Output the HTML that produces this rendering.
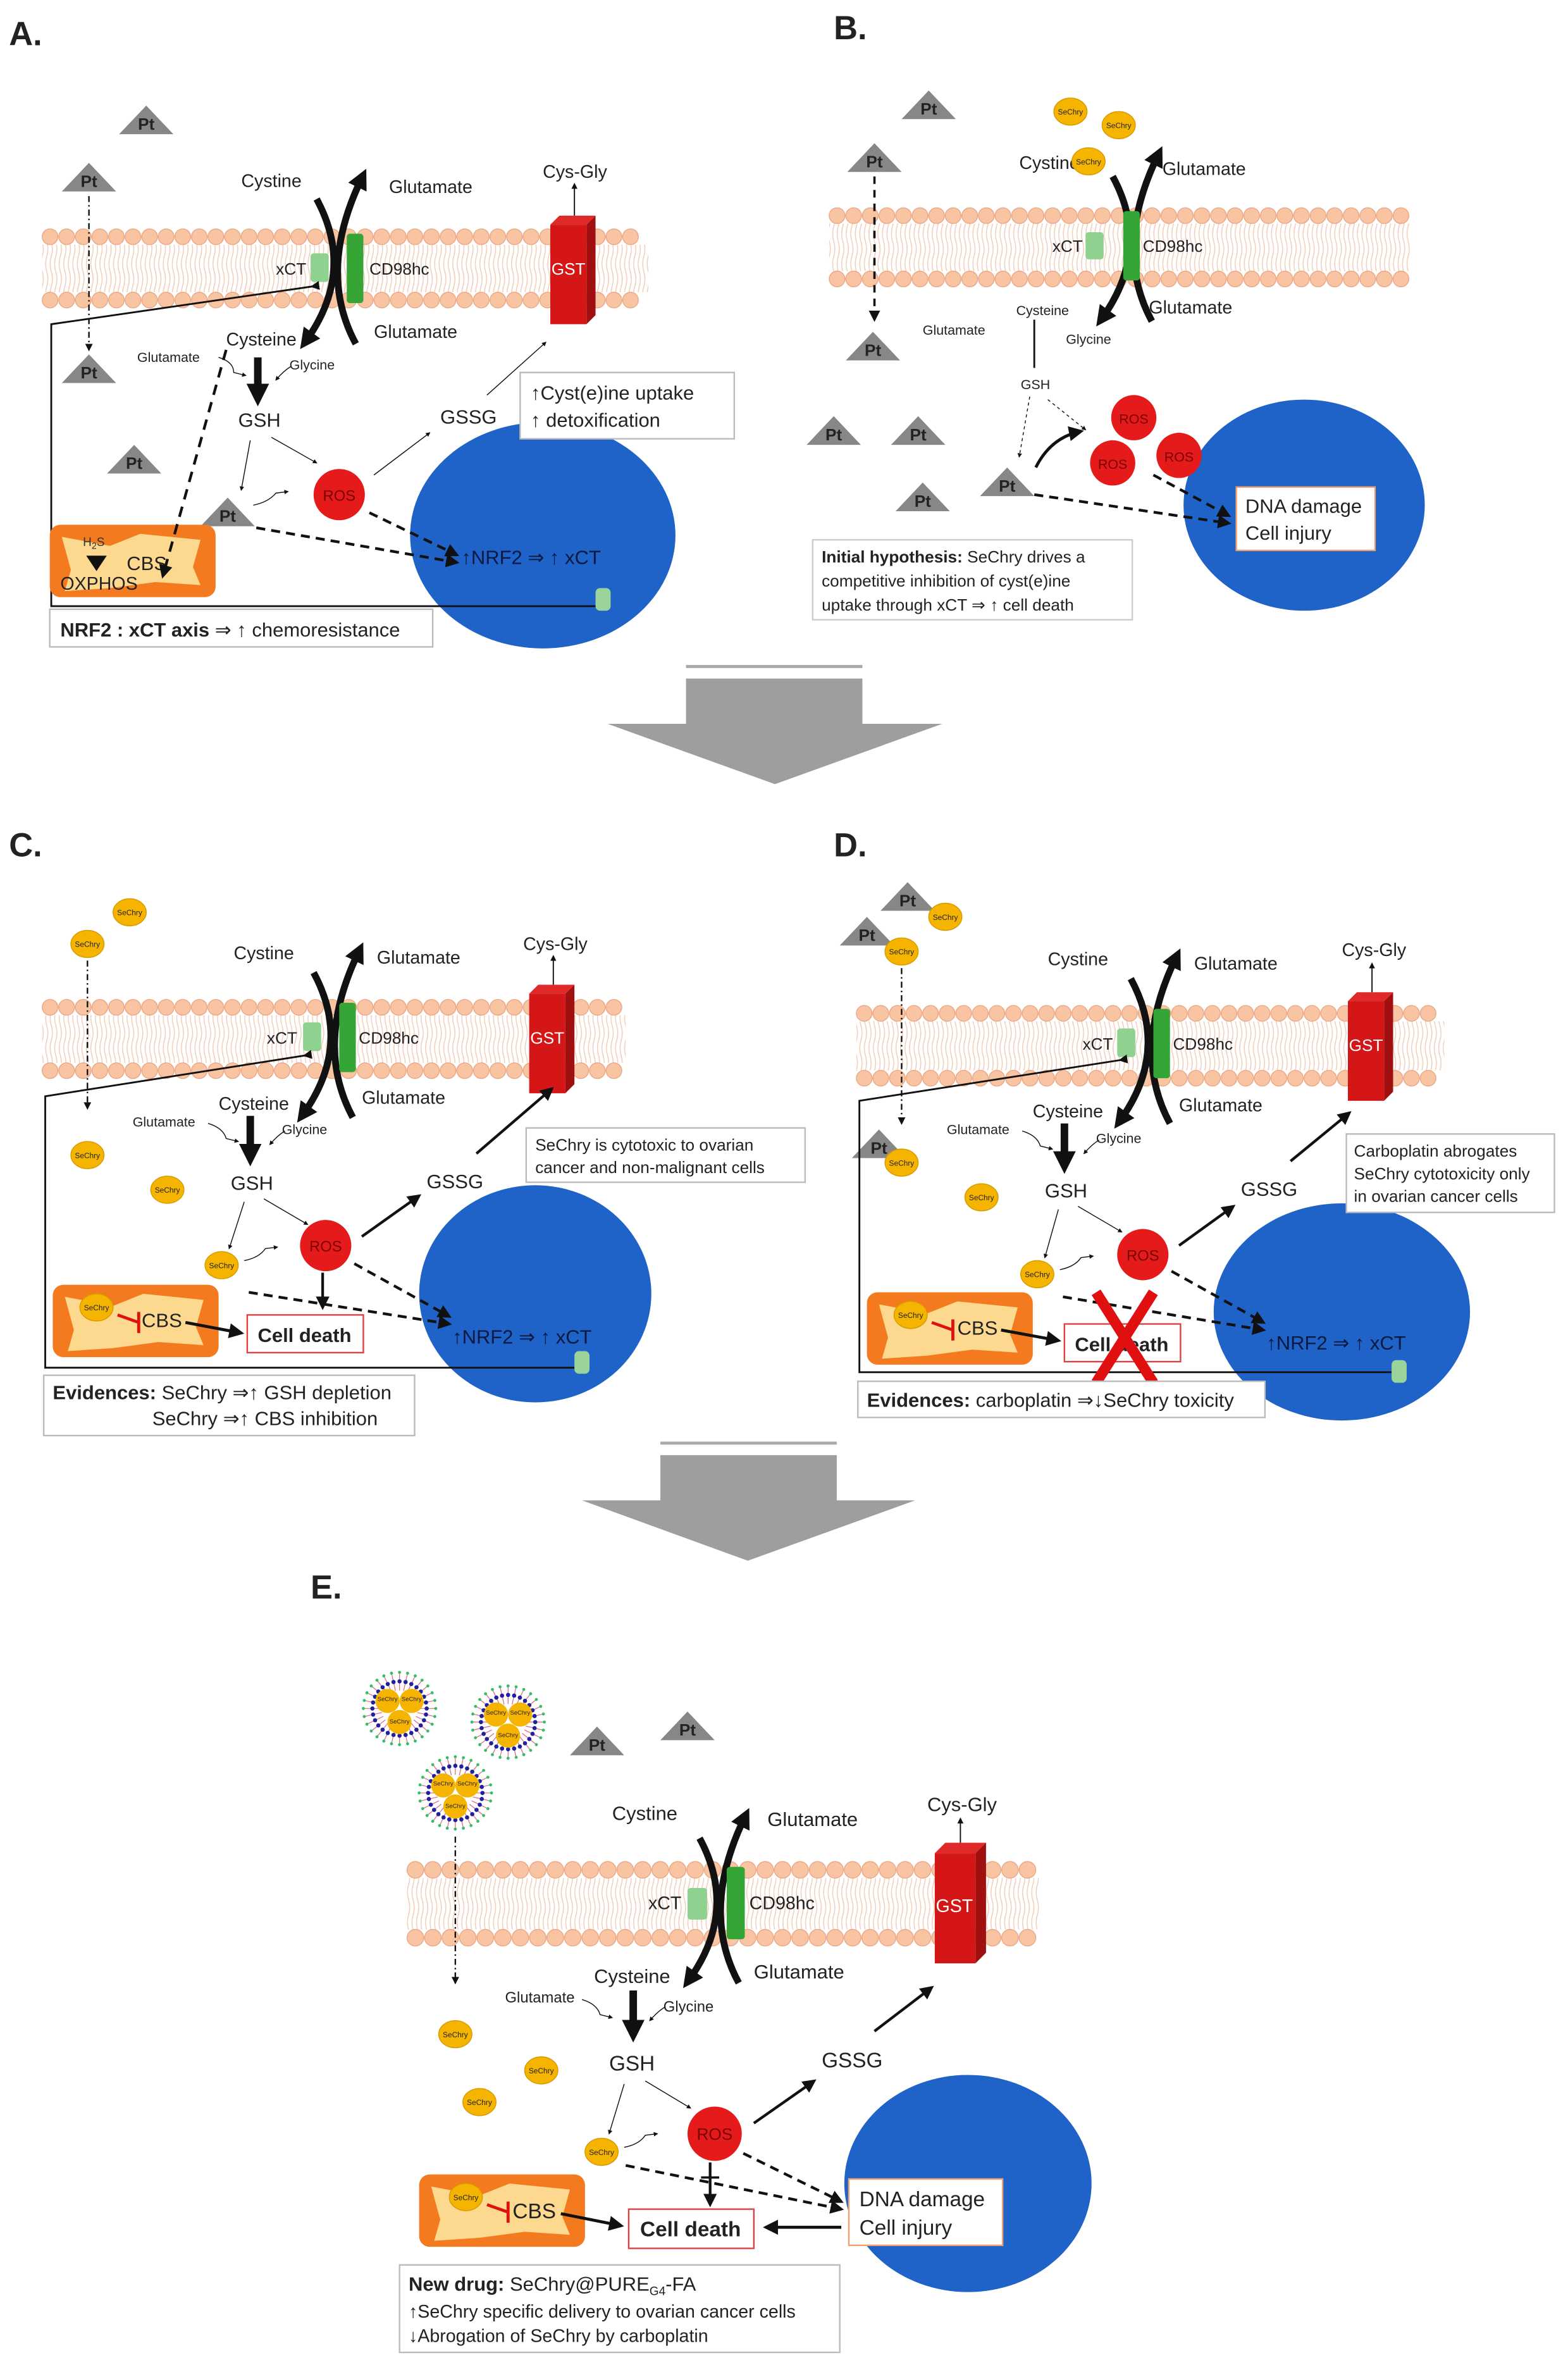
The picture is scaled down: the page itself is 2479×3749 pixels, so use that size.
<!DOCTYPE html>
<html><head><meta charset="utf-8"><style>
html,body{margin:0;padding:0;background:#fff}
svg{display:block}
text{font-family:"Liberation Sans Narrow","Liberation Sans",sans-serif;fill:#222}
.b{font-weight:bold}
</style></head><body>
<svg id="s" width="2479" height="3749" viewBox="0 0 1040 1573" preserveAspectRatio="none" xmlns="http://www.w3.org/2000/svg">
<defs>
<marker id="a" viewBox="0 0 10 10" refX="8" refY="5" markerWidth="5" markerHeight="5" orient="auto"><path d="M0,0L10,5L0,10z" fill="#111"/></marker>
<marker id="ab" viewBox="0 0 10 10" refX="5" refY="5" markerWidth="3" markerHeight="3" orient="auto"><path d="M0,0L10,5L0,10z" fill="#111"/></marker>
<pattern id="tails" width="3" height="40" patternUnits="userSpaceOnUse"><path d="M1,0 q1.5,5 0,10 q-1.5,5 0,10 q1.5,5 0,10 q-1.5,5 0,10" stroke="#f2cbb6" stroke-width="0.6" fill="none"/></pattern>
<g id="tri"><path d="M-18,9 L0,-10 L18,9z" fill="#878787"/></g>
<g id="trans">
<path d="M-10,-43 Q16,5 -17,51" stroke="#111" stroke-width="4.5" fill="none" marker-end="url(#ab)"/>
<path d="M16,53 Q-10,5 20,-57" stroke="#111" stroke-width="4.5" fill="none" marker-end="url(#ab)"/>
</g>
<g id="gst"><path d="M0,6 L6,0 L30,0 L24,6z" fill="#e02a2a"/><path d="M24,6 L30,0 L30,66 L24,72z" fill="#a01010"/><rect x="0" y="6" width="24" height="66" fill="#d41616"/></g>
<g id="gstE"><path d="M0,7 L7,0 L34,0 L27,7z" fill="#e02a2a"/><path d="M27,7 L34,0 L34,73 L27,80z" fill="#a01010"/><rect x="0" y="7" width="27" height="73" fill="#d41616"/></g>
<g id="mito"><rect x="0" y="0" width="110" height="48" rx="7" fill="#f47a1f"/><path d="M8,8 L40,14 L60,6 L100,10 L95,28 L100,40 L70,38 L40,42 L10,44 L14,30z" fill="#fcd98e"/></g>
<g id="sc"><ellipse cx="0" cy="0" rx="11" ry="9" fill="#f5b400" stroke="#d89a00" stroke-width="0.6"/></g>
</defs>
<g id="mem"></g>

<!-- ========== PANEL A ========== -->
<text x="6" y="30" font-size="22" class="b">A.</text>
<ellipse cx="360" cy="355" rx="88" ry="75" fill="#1f63c8"/>
<use href="#tri" x="97" y="80"/><text x="97" y="86" font-size="11" class="b" text-anchor="middle">Pt</text>
<use href="#tri" x="59" y="118"/><text x="59" y="124" font-size="11" class="b" text-anchor="middle">Pt</text>
<use href="#tri" x="59" y="245"/><text x="59" y="251" font-size="11" class="b" text-anchor="middle">Pt</text>
<use href="#tri" x="89" y="305"/><text x="89" y="311" font-size="11" class="b" text-anchor="middle">Pt</text>
<use href="#tri" x="151" y="340"/><text x="151" y="346" font-size="11" class="b" text-anchor="middle">Pt</text>
<line x1="59" y1="130" x2="59" y2="232" stroke="#111" stroke-width="1" stroke-dasharray="4,2,1,2" marker-end="url(#a)"/>
<use href="#trans" x="220" y="175"/>
<text x="160" y="124" font-size="12">Cystine</text>
<text x="258" y="128" font-size="12">Glutamate</text>
<text x="150" y="229" font-size="12">Cysteine</text>
<text x="248" y="224" font-size="12">Glutamate</text>
<text x="183" y="182" font-size="11">xCT</text>
<rect x="206" y="168" width="12" height="19" rx="2" fill="#8fd18f"/>
<rect x="230" y="155" width="11" height="46" rx="2" fill="#35a535"/>
<text x="245" y="182" font-size="11">CD98hc</text>
<use href="#gst" x="365" y="143"/><text x="377" y="182" font-size="11" text-anchor="middle" style="fill:#fff">GST</text>
<line x1="381" y1="143" x2="381" y2="122" stroke="#111" stroke-width="0.8" marker-end="url(#a)"/>
<text x="360" y="118" font-size="12">Cys-Gly</text>
<polyline points="207,190 34,215 34,402 397,402" fill="none" stroke="#111" stroke-width="1.2" marker-start="url(#a)"/>
<line x1="171" y1="237" x2="171" y2="262" stroke="#111" stroke-width="5" marker-end="url(#ab)"/>
<text x="91" y="240" font-size="9">Glutamate</text><text x="192" y="245" font-size="9">Glycine</text>
<path d="M145,237 q10,3 10,10 l8,2" fill="none" stroke="#111" stroke-width="0.6" marker-end="url(#a)"/>
<path d="M193,243 q-5,3 -10,9" fill="none" stroke="#111" stroke-width="0.6" marker-end="url(#a)"/>
<text x="158" y="283" font-size="13">GSH</text>
<line x1="180" y1="290" x2="210" y2="307" stroke="#111" stroke-width="0.6" marker-end="url(#a)"/>
<line x1="166" y1="292" x2="160" y2="325" stroke="#111" stroke-width="0.6" marker-end="url(#a)"/>
<path d="M168,335 q10,-2 15,-8 l8,-1" fill="none" stroke="#111" stroke-width="0.6" marker-end="url(#a)"/>
<circle cx="225" cy="328" r="17" fill="#e51b1b"/><text x="225" y="332" font-size="10" text-anchor="middle" style="fill:#7a0000">ROS</text>
<text x="292" y="281" font-size="13">GSSG</text>
<line x1="248" y1="315" x2="285" y2="287" stroke="#111" stroke-width="0.6" marker-end="url(#a)"/>
<line x1="323" y1="262" x2="362" y2="227" stroke="#111" stroke-width="0.6" marker-end="url(#a)"/>
<rect x="345" y="247" width="142" height="44" fill="#fff" stroke="#bbb"/>
<text x="352" y="265" font-size="13">↑Cyst(e)ine uptake</text><text x="352" y="283" font-size="13">↑ detoxification</text>
<text x="306" y="374" font-size="13" style="fill:#0a1a40">↑NRF2 ⇒ ↑ xCT</text>
<rect x="395" y="390" width="10" height="15" rx="3" fill="#9bd49b"/>
<line x1="245" y1="340" x2="303" y2="368" stroke="#111" stroke-width="1.8" stroke-dasharray="6,4" marker-end="url(#a)"/>
<line x1="170" y1="350" x2="303" y2="373" stroke="#111" stroke-width="1.8" stroke-dasharray="6,4" marker-end="url(#a)"/>
<use href="#mito" x="33" y="348"/>
<text x="55" y="362" font-size="8" style="fill:#333">H<tspan font-size="6" dy="2">2</tspan><tspan dy="-2">S</tspan></text>
<path d="M64,375 l0,-4 M60,370 l4,6 l4,-6z" fill="#111" stroke="#111" stroke-width="3"/>
<text x="84" y="378" font-size="13">CBS</text>
<text x="40" y="391" font-size="12">OXPHOS</text>
<line x1="150" y1="232" x2="108" y2="382" stroke="#111" stroke-width="1.8" stroke-dasharray="7,5" marker-end="url(#a)"/>
<rect x="33" y="404" width="254" height="25" fill="#fff" stroke="#bbb"/>
<text x="40" y="422" font-size="13"><tspan class="b">NRF2 : xCT axis</tspan> ⇒ ↑ chemoresistance</text>

<!-- ========== PANEL B ========== -->
<text x="553" y="26" font-size="22" class="b">B.</text>
<use href="#tri" x="616" y="70"/><text x="616" y="76" font-size="11" class="b" text-anchor="middle">Pt</text>
<use href="#tri" x="580" y="105"/><text x="580" y="111" font-size="11" class="b" text-anchor="middle">Pt</text>
<use href="#tri" x="579" y="230"/><text x="579" y="236" font-size="11" class="b" text-anchor="middle">Pt</text>
<use href="#tri" x="553" y="286"/><text x="553" y="292" font-size="11" class="b" text-anchor="middle">Pt</text>
<use href="#tri" x="609" y="286"/><text x="609" y="292" font-size="11" class="b" text-anchor="middle">Pt</text>
<use href="#tri" x="612" y="330"/><text x="612" y="336" font-size="11" class="b" text-anchor="middle">Pt</text>
<use href="#tri" x="668" y="320"/><text x="668" y="326" font-size="11" class="b" text-anchor="middle">Pt</text>
<use href="#sc" x="710" y="74"/><text x="710" y="76" font-size="5" text-anchor="middle">SeChry</text>
<use href="#sc" x="742" y="83"/><text x="742" y="85" font-size="5" text-anchor="middle">SeChry</text>
<line x1="580" y1="117" x2="580" y2="212" stroke="#111" stroke-width="1.5" stroke-dasharray="5,4" marker-end="url(#a)"/>
<use href="#trans" x="748" y="160"/>
<text x="676" y="112" font-size="12">Cystine</text>
<use href="#sc" x="722" y="107"/><text x="722" y="109" font-size="5" text-anchor="middle">SeChry</text>
<text x="771" y="116" font-size="12">Glutamate</text>
<text x="762" y="208" font-size="12">Glutamate</text>
<text x="674" y="209" font-size="9">Cysteine</text>
<text x="698" y="167" font-size="11">xCT</text>
<rect x="720" y="154" width="12" height="18" rx="2" fill="#8fd18f"/>
<rect x="745" y="140" width="11" height="46" rx="2" fill="#35a535"/>
<text x="758" y="167" font-size="11">CD98hc</text>
<text x="612" y="222" font-size="9">Glutamate</text><text x="707" y="228" font-size="9">Glycine</text>
<line x1="686" y1="212" x2="686" y2="244" stroke="#111" stroke-width="1.2"/>
<text x="677" y="258" font-size="9">GSH</text>
<line x1="683" y1="263" x2="676" y2="303" stroke="#111" stroke-width="0.6" stroke-dasharray="2,2" marker-end="url(#a)"/>
<line x1="695" y1="265" x2="720" y2="285" stroke="#111" stroke-width="0.6" stroke-dasharray="2,2" marker-end="url(#a)"/>
<ellipse cx="865" cy="335" rx="80" ry="70" fill="#1f63c8"/>
<circle cx="752" cy="277" r="15" fill="#e51b1b"/><text x="752" y="281" font-size="9" text-anchor="middle" style="fill:#7a0000">ROS</text>
<circle cx="738" cy="307" r="15" fill="#e51b1b"/><text x="738" y="311" font-size="9" text-anchor="middle" style="fill:#7a0000">ROS</text>
<circle cx="782" cy="302" r="15" fill="#e51b1b"/><text x="782" y="306" font-size="9" text-anchor="middle" style="fill:#7a0000">ROS</text>
<path d="M687,310 q10,-20 30,-24" fill="none" stroke="#111" stroke-width="2" marker-end="url(#a)"/>
<line x1="765" y1="315" x2="815" y2="342" stroke="#111" stroke-width="1.8" stroke-dasharray="6,4" marker-end="url(#a)"/>
<line x1="686" y1="328" x2="815" y2="347" stroke="#111" stroke-width="1.8" stroke-dasharray="6,4" marker-end="url(#a)"/>
<rect x="820" y="323" width="92" height="42" fill="#fff" stroke="#f0a070"/>
<text x="826" y="340" font-size="13">DNA damage</text><text x="826" y="358" font-size="13">Cell injury</text>
<rect x="539" y="358" width="212" height="53" fill="#fff" stroke="#ccc"/>
<text x="545" y="373" font-size="11"><tspan class="b">Initial hypothesis:</tspan> SeChry drives a</text>
<text x="545" y="389" font-size="11">competitive inhibition of cyst(e)ine</text>
<text x="545" y="405" font-size="11">uptake through xCT ⇒ ↑ cell death</text>

<!-- big arrows -->
<line x1="455" y1="442" x2="572" y2="442" stroke="#aaa" stroke-width="2"/>
<path d="M455,450 L572,450 L572,480 L625,480 L514,520 L403,480 L455,480z" fill="#9e9e9e"/>
<line x1="438" y1="957" x2="555" y2="957" stroke="#aaa" stroke-width="2"/>
<path d="M438,965 L555,965 L555,995 L607,995 L496,1035 L386,995 L438,995z" fill="#9e9e9e"/>

<!-- ========== PANEL C ========== -->
<text x="6" y="568" font-size="22" class="b">C.</text>
<ellipse cx="355" cy="858" rx="77" ry="72" fill="#1f63c8"/>
<use href="#sc" x="86" y="605"/><text x="86" y="607" font-size="5" text-anchor="middle">SeChry</text>
<use href="#sc" x="58" y="626"/><text x="58" y="628" font-size="5" text-anchor="middle">SeChry</text>
<use href="#sc" x="58" y="766"/><text x="58" y="768" font-size="5" text-anchor="middle">SeChry</text>
<use href="#sc" x="111" y="789"/><text x="111" y="791" font-size="5" text-anchor="middle">SeChry</text>
<line x1="58" y1="637" x2="58" y2="735" stroke="#111" stroke-width="1" stroke-dasharray="4,2,1,2" marker-end="url(#a)"/>
<use href="#trans" x="218" y="688"/>
<text x="155" y="636" font-size="12">Cystine</text>
<text x="250" y="639" font-size="12">Glutamate</text>
<text x="145" y="736" font-size="12">Cysteine</text>
<text x="240" y="732" font-size="12">Glutamate</text>
<text x="177" y="692" font-size="11">xCT</text>
<rect x="201" y="678" width="12" height="19" rx="2" fill="#8fd18f"/>
<rect x="225" y="665" width="11" height="46" rx="2" fill="#35a535"/>
<text x="238" y="692" font-size="11">CD98hc</text>
<use href="#gst" x="351" y="653"/><text x="363" y="692" font-size="11" text-anchor="middle" style="fill:#fff">GST</text>
<line x1="367" y1="653" x2="367" y2="634" stroke="#111" stroke-width="0.8" marker-end="url(#a)"/>
<text x="347" y="630" font-size="12">Cys-Gly</text>
<polyline points="202,700 30,727 30,907 384,907" fill="none" stroke="#111" stroke-width="1.2" marker-start="url(#a)"/>
<rect x="381" y="896" width="10" height="15" rx="3" fill="#9bd49b"/>
<line x1="166" y1="740" x2="166" y2="766" stroke="#111" stroke-width="5" marker-end="url(#ab)"/>
<text x="88" y="747" font-size="9">Glutamate</text><text x="187" y="752" font-size="9">Glycine</text>
<path d="M138,745 q10,3 12,10 l8,2" fill="none" stroke="#111" stroke-width="0.6" marker-end="url(#a)"/>
<path d="M189,750 q-5,3 -10,9" fill="none" stroke="#111" stroke-width="0.6" marker-end="url(#a)"/>
<text x="153" y="789" font-size="13">GSH</text>
<line x1="175" y1="795" x2="204" y2="812" stroke="#111" stroke-width="0.6" marker-end="url(#a)"/>
<line x1="162" y1="797" x2="152" y2="828" stroke="#111" stroke-width="0.6" marker-end="url(#a)"/>
<use href="#sc" x="147" y="839"/><text x="147" y="841" font-size="5" text-anchor="middle">SeChry</text>
<path d="M162,836 q10,-2 14,-8 l8,-1" fill="none" stroke="#111" stroke-width="0.6" marker-end="url(#a)"/>
<circle cx="216" cy="826" r="17" fill="#e51b1b"/><text x="216" y="830" font-size="10" text-anchor="middle" style="fill:#7a0000">ROS</text>
<text x="283" y="788" font-size="13">GSSG</text>
<line x1="240" y1="820" x2="278" y2="793" stroke="#111" stroke-width="1.8" marker-end="url(#a)"/>
<line x1="316" y1="765" x2="366" y2="722" stroke="#111" stroke-width="1.8" marker-end="url(#a)"/>
<rect x="349" y="748" width="185" height="36" fill="#fff" stroke="#bbb"/>
<text x="355" y="763" font-size="11">SeChry is cytotoxic to ovarian</text><text x="355" y="778" font-size="11">cancer and non-malignant cells</text>
<text x="300" y="891" font-size="13" style="fill:#0a1a40">↑NRF2 ⇒ ↑ xCT</text>
<line x1="235" y1="838" x2="298" y2="873" stroke="#111" stroke-width="1.8" stroke-dasharray="6,4" marker-end="url(#a)"/>
<line x1="165" y1="857" x2="298" y2="878" stroke="#111" stroke-width="1.8" stroke-dasharray="6,4" marker-end="url(#a)"/>
<line x1="214" y1="844" x2="214" y2="867" stroke="#111" stroke-width="1.8" marker-end="url(#a)"/>
<use href="#mito" x="35" y="852"/>
<use href="#sc" x="64" y="867"/><text x="64" y="869" font-size="5" text-anchor="middle">SeChry</text>
<path d="M78,872 L92,877 M92,870 L92,884" stroke="#e01010" stroke-width="2" fill="none"/>
<text x="94" y="880" font-size="13">CBS</text>
<line x1="123" y1="877" x2="160" y2="884" stroke="#111" stroke-width="2" marker-end="url(#a)"/>
<rect x="164" y="872" width="77" height="25" fill="#fff" stroke="#e04040"/>
<text x="202" y="890" font-size="13" class="b" text-anchor="middle">Cell death</text>
<rect x="29" y="912" width="246" height="40" fill="#fff" stroke="#bbb"/>
<text x="35" y="928" font-size="13"><tspan class="b">Evidences:</tspan> SeChry ⇒↑ GSH depletion</text>
<text x="101" y="945" font-size="13">SeChry ⇒↑ CBS inhibition</text>

<!-- ========== PANEL D ========== -->
<text x="553" y="568" font-size="22" class="b">D.</text>
<ellipse cx="890" cy="870" rx="85" ry="72" fill="#1f63c8"/>
<use href="#tri" x="602" y="595"/><text x="602" y="601" font-size="11" class="b" text-anchor="middle">Pt</text>
<use href="#sc" x="627" y="608"/><text x="627" y="610" font-size="5" text-anchor="middle">SeChry</text>
<use href="#tri" x="575" y="618"/><text x="575" y="624" font-size="11" class="b" text-anchor="middle">Pt</text>
<use href="#sc" x="598" y="631"/><text x="598" y="633" font-size="5" text-anchor="middle">SeChry</text>
<line x1="598" y1="642" x2="598" y2="745" stroke="#111" stroke-width="1" stroke-dasharray="4,2,1,2" marker-end="url(#a)"/>
<use href="#tri" x="583" y="759"/><text x="583" y="765" font-size="11" class="b" text-anchor="middle">Pt</text>
<use href="#sc" x="598" y="771"/><text x="598" y="773" font-size="5" text-anchor="middle">SeChry</text>
<use href="#sc" x="651" y="794"/><text x="651" y="796" font-size="5" text-anchor="middle">SeChry</text>
<use href="#trans" x="760" y="692"/>
<text x="695" y="640" font-size="12">Cystine</text>
<text x="792" y="643" font-size="12">Glutamate</text>
<text x="685" y="741" font-size="12">Cysteine</text>
<text x="782" y="737" font-size="12">Glutamate</text>
<text x="718" y="696" font-size="11">xCT</text>
<rect x="741" y="682" width="12" height="19" rx="2" fill="#8fd18f"/>
<rect x="765" y="669" width="11" height="46" rx="2" fill="#35a535"/>
<text x="778" y="696" font-size="11">CD98hc</text>
<use href="#gst" x="894" y="658"/><text x="906" y="697" font-size="11" text-anchor="middle" style="fill:#fff">GST</text>
<line x1="910" y1="658" x2="910" y2="639" stroke="#111" stroke-width="0.8" marker-end="url(#a)"/>
<text x="890" y="634" font-size="12">Cys-Gly</text>
<polyline points="743,703 570,730 570,910 923,910" fill="none" stroke="#111" stroke-width="1.2" marker-start="url(#a)"/>
<line x1="706" y1="745" x2="706" y2="771" stroke="#111" stroke-width="5" marker-end="url(#ab)"/>
<text x="628" y="752" font-size="9">Glutamate</text><text x="727" y="758" font-size="9">Glycine</text>
<path d="M678,750 q10,3 12,10 l8,2" fill="none" stroke="#111" stroke-width="0.6" marker-end="url(#a)"/>
<path d="M729,756 q-5,3 -10,9" fill="none" stroke="#111" stroke-width="0.6" marker-end="url(#a)"/>
<text x="693" y="794" font-size="13">GSH</text>
<line x1="715" y1="800" x2="744" y2="817" stroke="#111" stroke-width="0.6" marker-end="url(#a)"/>
<line x1="702" y1="802" x2="693" y2="834" stroke="#111" stroke-width="0.6" marker-end="url(#a)"/>
<use href="#sc" x="688" y="845"/><text x="688" y="847" font-size="5" text-anchor="middle">SeChry</text>
<path d="M703,842 q10,-2 14,-8 l8,-1" fill="none" stroke="#111" stroke-width="0.6" marker-end="url(#a)"/>
<circle cx="758" cy="832" r="17" fill="#e51b1b"/><text x="758" y="836" font-size="10" text-anchor="middle" style="fill:#7a0000">ROS</text>
<text x="823" y="793" font-size="13">GSSG</text>
<line x1="782" y1="826" x2="818" y2="800" stroke="#111" stroke-width="1.8" marker-end="url(#a)"/>
<line x1="856" y1="770" x2="895" y2="738" stroke="#111" stroke-width="1.8" marker-end="url(#a)"/>
<rect x="893" y="752" width="138" height="52" fill="#fff" stroke="#bbb"/>
<text x="898" y="767" font-size="11">Carboplatin abrogates</text><text x="898" y="782" font-size="11">SeChry cytotoxicity only</text><text x="898" y="797" font-size="11">in ovarian cancer cells</text>
<text x="840" y="895" font-size="13" style="fill:#0a1a40">↑NRF2 ⇒ ↑ xCT</text>
<rect x="923" y="902" width="10" height="15" rx="3" fill="#9bd49b"/>
<line x1="777" y1="843" x2="838" y2="877" stroke="#111" stroke-width="1.8" stroke-dasharray="6,4" marker-end="url(#a)"/>
<line x1="705" y1="860" x2="838" y2="882" stroke="#111" stroke-width="1.8" stroke-dasharray="6,4" marker-end="url(#a)"/>
<use href="#mito" x="575" y="857"/>
<use href="#sc" x="604" y="872"/><text x="604" y="874" font-size="5" text-anchor="middle">SeChry</text>
<path d="M618,877 L632,882 M632,875 L632,889" stroke="#e01010" stroke-width="2" fill="none"/>
<text x="635" y="885" font-size="13">CBS</text>
<line x1="664" y1="882" x2="702" y2="889" stroke="#111" stroke-width="2" marker-end="url(#a)"/>
<rect x="706" y="878" width="77" height="25" fill="#fff" stroke="#e04040"/>
<text x="744" y="896" font-size="13" class="b" text-anchor="middle">Cell death</text>
<path d="M727,857 L765,917 M765,857 L727,917" stroke="#e01010" stroke-width="7"/>
<rect x="569" y="916" width="270" height="24" fill="#fff" stroke="#bbb"/>
<text x="575" y="933" font-size="13"><tspan class="b">Evidences:</tspan> carboplatin ⇒↓SeChry toxicity</text>

<!-- ========== PANEL E ========== -->
<text x="206" y="1060" font-size="22" class="b">E.</text>
<ellipse cx="642" cy="1448" rx="82" ry="72" fill="#1f63c8"/>
<g id="np"></g>
<text x="257" y="1128" font-size="4" text-anchor="middle">SeChry</text><text x="273" y="1128" font-size="4" text-anchor="middle">SeChry</text><text x="265" y="1143" font-size="4" text-anchor="middle">SeChry</text>
<text x="329" y="1137" font-size="4" text-anchor="middle">SeChry</text><text x="345" y="1137" font-size="4" text-anchor="middle">SeChry</text><text x="337" y="1152" font-size="4" text-anchor="middle">SeChry</text>
<text x="294" y="1184" font-size="4" text-anchor="middle">SeChry</text><text x="310" y="1184" font-size="4" text-anchor="middle">SeChry</text><text x="302" y="1199" font-size="4" text-anchor="middle">SeChry</text>
<use href="#tri" x="396" y="1155"/><text x="396" y="1161" font-size="11" class="b" text-anchor="middle">Pt</text>
<use href="#tri" x="456" y="1145"/><text x="456" y="1151" font-size="11" class="b" text-anchor="middle">Pt</text>
<line x1="302" y1="1218" x2="302" y2="1315" stroke="#111" stroke-width="1" stroke-dasharray="4,2,1,2" marker-end="url(#a)"/>
<use href="#trans" x="474" y="1262"/>
<text x="406" y="1207" font-size="13">Cystine</text>
<text x="509" y="1211" font-size="13">Glutamate</text>
<text x="394" y="1315" font-size="13">Cysteine</text>
<text x="500" y="1312" font-size="13">Glutamate</text>
<text x="430" y="1266" font-size="12">xCT</text>
<rect x="456" y="1252" width="13" height="21" rx="2" fill="#8fd18f"/>
<rect x="482" y="1238" width="12" height="48" rx="2" fill="#35a535"/>
<text x="497" y="1266" font-size="12">CD98hc</text>
<use href="#gstE" x="620" y="1222"/>
<text x="633" y="1268" font-size="12" text-anchor="middle" style="fill:#fff">GST</text>
<line x1="637" y1="1222" x2="637" y2="1206" stroke="#111" stroke-width="0.8" marker-end="url(#a)"/>
<text x="615" y="1201" font-size="13">Cys-Gly</text>
<line x1="420" y1="1320" x2="420" y2="1347" stroke="#111" stroke-width="5" marker-end="url(#ab)"/>
<text x="335" y="1328" font-size="10">Glutamate</text><text x="440" y="1334" font-size="10">Glycine</text>
<path d="M386,1326 q10,3 12,10 l8,2" fill="none" stroke="#111" stroke-width="0.6" marker-end="url(#a)"/>
<path d="M441,1331 q-5,3 -10,9" fill="none" stroke="#111" stroke-width="0.6" marker-end="url(#a)"/>
<text x="404" y="1373" font-size="14">GSH</text>
<line x1="428" y1="1380" x2="458" y2="1398" stroke="#111" stroke-width="0.6" marker-end="url(#a)"/>
<line x1="414" y1="1382" x2="404" y2="1415" stroke="#111" stroke-width="0.6" marker-end="url(#a)"/>
<use href="#sc" x="302" y="1349"/><text x="302" y="1351" font-size="5" text-anchor="middle">SeChry</text>
<use href="#sc" x="359" y="1373"/><text x="359" y="1375" font-size="5" text-anchor="middle">SeChry</text>
<use href="#sc" x="318" y="1394"/><text x="318" y="1396" font-size="5" text-anchor="middle">SeChry</text>
<use href="#sc" x="399" y="1427"/><text x="399" y="1429" font-size="5" text-anchor="middle">SeChry</text>
<path d="M414,1424 q10,-2 14,-8 l8,-1" fill="none" stroke="#111" stroke-width="0.6" marker-end="url(#a)"/>
<circle cx="474" cy="1415" r="18" fill="#e51b1b"/><text x="474" y="1419" font-size="11" text-anchor="middle" style="fill:#7a0000">ROS</text>
<text x="545" y="1371" font-size="14">GSSG</text>
<line x1="500" y1="1408" x2="540" y2="1380" stroke="#111" stroke-width="1.8" marker-end="url(#a)"/>
<line x1="580" y1="1347" x2="618" y2="1318" stroke="#111" stroke-width="1.8" marker-end="url(#a)"/>
<rect x="563" y="1445" width="102" height="44" fill="#fff" stroke="#f0a070"/>
<text x="570" y="1463" font-size="14">DNA damage</text><text x="570" y="1482" font-size="14">Cell injury</text>
<line x1="493" y1="1428" x2="558" y2="1460" stroke="#111" stroke-width="1.8" stroke-dasharray="6,4" marker-end="url(#a)"/>
<line x1="415" y1="1436" x2="558" y2="1465" stroke="#111" stroke-width="1.8" stroke-dasharray="6,4" marker-end="url(#a)"/>
<line x1="471" y1="1434" x2="471" y2="1462" stroke="#111" stroke-width="1.8" marker-end="url(#a)"/>
<line x1="465" y1="1444" x2="477" y2="1444" stroke="#111" stroke-width="1.5"/>
<line x1="558" y1="1477" x2="508" y2="1477" stroke="#111" stroke-width="2" marker-end="url(#a)"/>
<use href="#mito" x="278" y="1442"/>
<use href="#sc" x="309" y="1457"/><text x="309" y="1459" font-size="5" text-anchor="middle">SeChry</text>
<path d="M323,1462 L337,1467 M337,1460 L337,1474" stroke="#e01010" stroke-width="2" fill="none"/>
<text x="340" y="1471" font-size="14">CBS</text>
<line x1="372" y1="1468" x2="412" y2="1476" stroke="#111" stroke-width="2" marker-end="url(#a)"/>
<rect x="417" y="1465" width="83" height="26" fill="#fff" stroke="#e04040"/>
<text x="458" y="1483" font-size="14" class="b" text-anchor="middle">Cell death</text>
<rect x="265" y="1502" width="292" height="58" fill="#fff" stroke="#bbb"/>
<text x="271" y="1519" font-size="13"><tspan class="b">New drug:</tspan> SeChry@PURE<tspan font-size="8" dy="3">G4</tspan><tspan dy="-3">-FA</tspan></text>
<text x="271" y="1537" font-size="12">↑SeChry specific delivery to ovarian cancer cells</text>
<text x="271" y="1553" font-size="12">↓Abrogation of SeChry by carboplatin</text>
</svg>
<script>
(function(){
var NS="http://www.w3.org/2000/svg";
var mem=document.getElementById("mem");
function el(n,a,p){var e=document.createElementNS(NS,n);for(var k in a)e.setAttribute(k,a[k]);(p||mem).appendChild(e);return e;}
function membrane(x1,x2,yt,yb,r){
  el("rect",{x:x1,y:yt+r,width:x2-x1,height:yb-yt-2*r,fill:"url(#tails)"});
  for(var x=x1+r;x<=x2-r+0.1;x+=2*r+0.6){
    el("circle",{cx:x,cy:yt,r:r,fill:"#f8c4a2",stroke:"#eba887","stroke-width":0.6});
    el("circle",{cx:x,cy:yb,r:r,fill:"#f8c4a2",stroke:"#eba887","stroke-width":0.6});
  }
}
membrane(28,430,157,199,5.2);
membrane(550,935,143,185,5.2);
membrane(28,415,668,710,5.2);
membrane(568,958,672,715,5.2);
membrane(270,690,1240,1285,5.5);
var np=document.getElementById("np");
function nano(cx,cy){
  for(var i=0;i<28;i++){var a=i/28*Math.PI*2;
    var x1=cx+Math.cos(a)*12,y1=cy+Math.sin(a)*12,x2=cx+Math.cos(a)*24,y2=cy+Math.sin(a)*24;
    el("line",{x1:x1,y1:y1,x2:x2,y2:y2,stroke:"#e06080","stroke-width":0.5},np);
    el("circle",{cx:cx+Math.cos(a)*18,cy:cy+Math.sin(a)*18,r:1.4,fill:"#2020a0"},np);
    el("circle",{cx:x2,cy:y2,r:1,fill:"#30c060"},np);}
  el("circle",{cx:cx-8,cy:cy-5,r:8,fill:"#f5b400"},np);
  el("circle",{cx:cx+8,cy:cy-5,r:8,fill:"#f5b400"},np);
  el("circle",{cx:cx,cy:cy+9,r:8,fill:"#f5b400"},np);
}
nano(265,1133);nano(337,1142);nano(302,1189);
})();
</script>
</body></html>
